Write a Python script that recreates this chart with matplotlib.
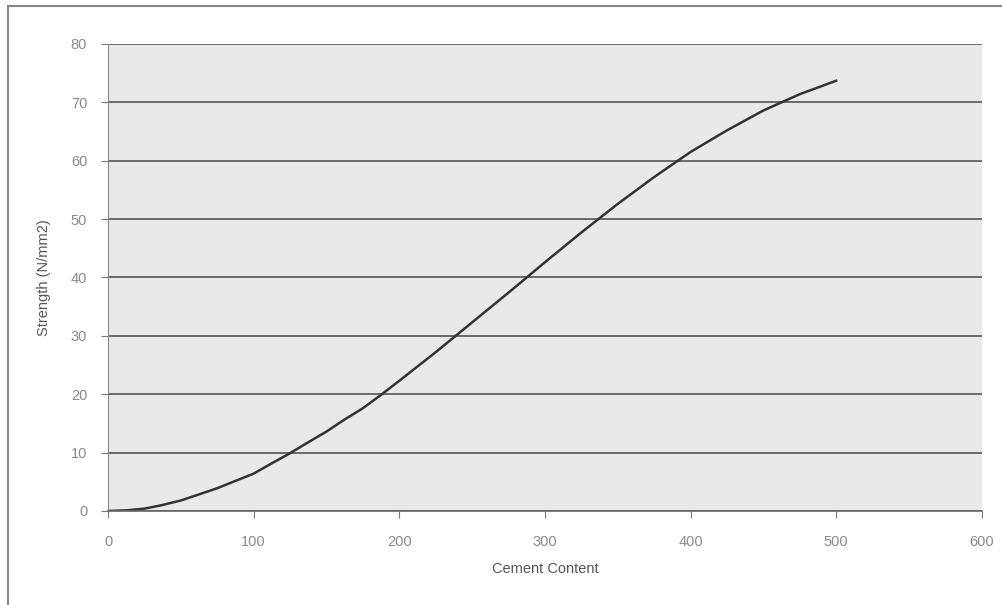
import matplotlib
matplotlib.use("Agg")
import matplotlib.pyplot as plt
from matplotlib.lines import Line2D

# values
cement = [0, 12, 25, 37, 50, 62, 75, 87, 100, 112, 125, 137, 150, 162, 175, 187,
          200, 225, 250, 275, 300, 325, 350, 375, 400, 425, 450, 475, 500]
strength = [0, 0.1, 0.4, 1.0, 1.8, 2.8, 3.9, 5.1, 6.4, 8.1, 9.9, 11.7, 13.6, 15.6,
            17.6, 19.8, 22.3, 27.2, 32.3, 37.4, 42.6, 47.7, 52.6, 57.2, 61.5,
            65.2, 68.6, 71.4, 73.7]
x_ticks = [0, 100, 200, 300, 400, 500, 600]
y_ticks = [0, 10, 20, 30, 40, 50, 60, 70, 80]

plt.rcParams['font.family'] = ['Liberation Sans', 'DejaVu Sans']

fig = plt.figure(figsize=(10.02, 6.05), dpi=100)
ax = fig.add_axes([0.1078, 0.1554, 0.872, 0.7719])
ax.set_facecolor("#e9e9e9")

ax.plot(cement, strength, color="#333333", lw=1.8, solid_joinstyle="round")

ax.set_xlim(0, 600)
ax.set_ylim(0, 80)
ax.set_xticks(x_ticks)
ax.set_yticks(y_ticks)
ax.yaxis.grid(True, color="#555555", lw=1.2)
ax.set_axisbelow(True)

for s in ["top", "right"]:
    ax.spines[s].set_visible(False)
ax.spines["left"].set_color("#888888")
ax.spines["bottom"].set_color("#666666")
ax.spines["bottom"].set_linewidth(1.2)
ax.tick_params(axis="both", colors="#777777", labelsize=10.5, length=5)
ax.tick_params(axis="x", pad=12)
ax.tick_params(axis="y", pad=10)
for t in ax.get_xticklabels() + ax.get_yticklabels():
    t.set_color("#8a8a8a")

ax.set_xlabel("Cement Content", fontsize=10.5, color="#555555", labelpad=10)
ax.set_ylabel("Strength (N/mm2)", fontsize=10.5, color="#555555", labelpad=14)

# outer chart frame
fig.add_artist(Line2D([0.008, 1.0], [0.99, 0.99], transform=fig.transFigure,
                      color="#888888", lw=1.5))
fig.add_artist(Line2D([0.008, 0.008], [0.99, 0.0], transform=fig.transFigure,
                      color="#888888", lw=1.5))

fig.savefig("out.png", dpi=100)
